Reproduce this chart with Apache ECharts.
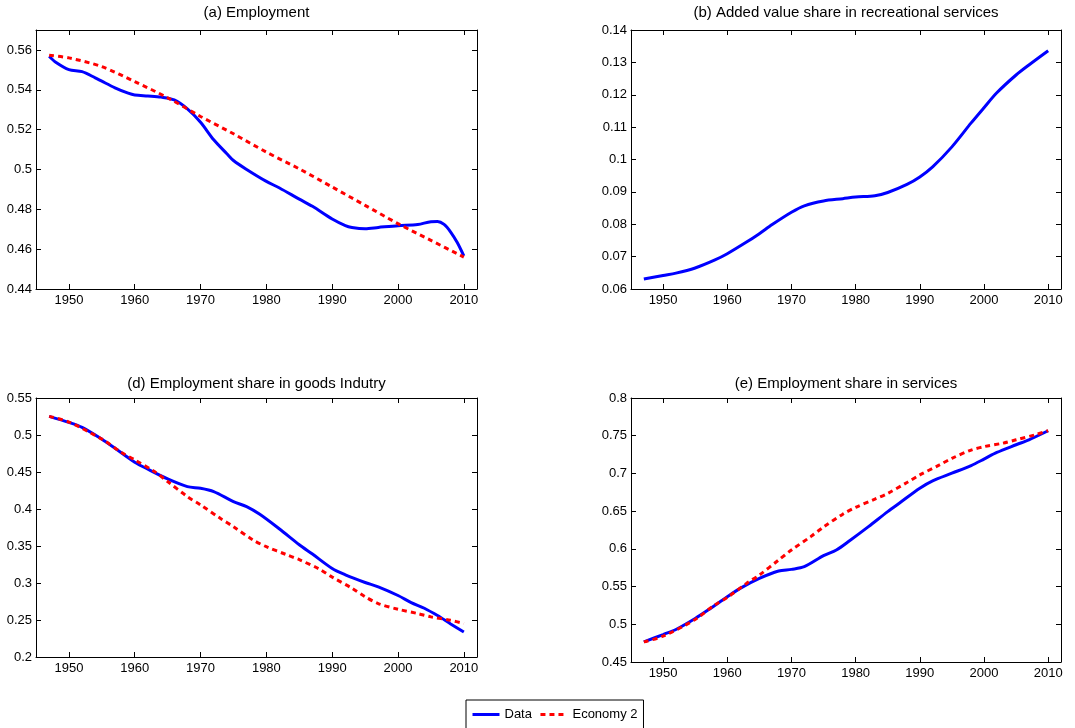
<!DOCTYPE html>
<html>
<head>
<meta charset="utf-8">
<title>Employment and sectoral shares</title>
<script src="https://cdn.jsdelivr.net/npm/echarts@6/dist/echarts.min.js"></script>
<style>
  html, body { margin: 0; padding: 0; background: #fff; }
  #chart { width: 1075px; height: 728px; }
</style>
</head>
<body>
<div id="chart"></div>
<script>
// ---- data -------------------------------------------------------------
const yearTicks = [1950, 1960, 1970, 1980, 1990, 2000, 2010];

// (a) Employment
const empDataYears = [1947, 1948, 1950, 1952, 1954, 1955, 1957, 1959, 1960, 1962, 1964, 1966, 1968, 1970, 1972, 1974, 1975, 1977, 1980, 1982, 1985, 1987, 1990, 1992, 1993, 1995, 1997, 2000, 2003, 2005, 2006, 2007, 2008, 2009, 2010];
const empData = [0.5568, 0.5538, 0.5501, 0.5491, 0.5460, 0.5443, 0.5410, 0.5383, 0.5374, 0.5369, 0.5363, 0.5349, 0.5304, 0.5237, 0.5149, 0.5079, 0.5045, 0.5000, 0.4940, 0.4907, 0.4851, 0.4815, 0.4751, 0.4718, 0.4709, 0.4703, 0.4709, 0.4718, 0.4724, 0.4738, 0.4739, 0.4724, 0.4686, 0.4633, 0.4566];
const empModelYears = [1947, 1950, 1955, 1960, 1965, 1970, 1975, 1980, 1985, 1990, 1995, 2000, 2005, 2010];
const empModel = [0.5573, 0.5560, 0.5516, 0.5441, 0.5360, 0.5266, 0.5179, 0.5087, 0.5003, 0.4912, 0.4820, 0.4728, 0.4644, 0.4560];
const empTicks = [0.44, 0.46, 0.48, 0.5, 0.52, 0.54, 0.56];

// (b) Added value share in recreational services
const recYears = [1947, 1950, 1952, 1955, 1958, 1960, 1963, 1965, 1967, 1970, 1972, 1975, 1978, 1980, 1983, 1985, 1988, 1990, 1992, 1995, 1998, 2000, 2002, 2005, 2007, 2010];
const recData = [0.0631, 0.0642, 0.0649, 0.0665, 0.0689, 0.0709, 0.0745, 0.0771, 0.0799, 0.0837, 0.0857, 0.0872, 0.0879, 0.0884, 0.0888, 0.0898, 0.0923, 0.0946, 0.0977, 0.1039, 0.1113, 0.1160, 0.1206, 0.1261, 0.1292, 0.1336];
const recTicks = [0.06, 0.07, 0.08, 0.09, 0.1, 0.11, 0.12, 0.13, 0.14];

// (d) Employment share in goods industry
const goodsDataYears = [1947, 1950, 1952, 1955, 1957, 1960, 1962, 1965, 1968, 1970, 1972, 1975, 1977, 1979, 1982, 1985, 1987, 1990, 1992, 1995, 1997, 2000, 2002, 2004, 2006, 2008, 2010];
const goodsData = [0.5252, 0.5170, 0.5103, 0.4944, 0.4822, 0.4633, 0.4538, 0.4407, 0.4303, 0.4280, 0.4235, 0.4100, 0.4032, 0.3928, 0.3729, 0.3517, 0.3391, 0.3196, 0.3111, 0.3007, 0.2948, 0.2831, 0.2736, 0.2659, 0.2560, 0.2447, 0.2338];
const goodsModelYears = [1947, 1950, 1955, 1958, 1960, 1963, 1965, 1968, 1970, 1973, 1975, 1978, 1980, 1983, 1985, 1988, 1990, 1993, 1995, 1997, 2000, 2003, 2005, 2008, 2010];
const goodsModel = [0.5252, 0.5175, 0.4944, 0.4764, 0.4664, 0.4506, 0.4371, 0.4167, 0.4055, 0.3874, 0.3761, 0.3580, 0.3490, 0.3385, 0.3315, 0.3190, 0.3080, 0.2930, 0.2815, 0.2722, 0.2645, 0.2587, 0.2542, 0.2496, 0.2451];
const goodsTicks = [0.2, 0.25, 0.3, 0.35, 0.4, 0.45, 0.5, 0.55];

// (e) Employment share in services
const servDataYears = [1947, 1950, 1952, 1955, 1957, 1960, 1962, 1965, 1968, 1970, 1972, 1975, 1977, 1979, 1982, 1985, 1987, 1990, 1992, 1995, 1998, 2000, 2002, 2005, 2007, 2010];
const servData = [0.4767, 0.4864, 0.4931, 0.5077, 0.5188, 0.5365, 0.5476, 0.5608, 0.5706, 0.5728, 0.5763, 0.5910, 0.5985, 0.6104, 0.6295, 0.6494, 0.6618, 0.6804, 0.6902, 0.7003, 0.7105, 0.7190, 0.7278, 0.7380, 0.7446, 0.7566];
const servModelYears = [1947, 1950, 1955, 1958, 1960, 1963, 1965, 1968, 1970, 1973, 1975, 1978, 1980, 1983, 1985, 1988, 1990, 1993, 1995, 1998, 2000, 2003, 2005, 2008, 2010];
const servModel = [0.4767, 0.4842, 0.5064, 0.5254, 0.5356, 0.5542, 0.5653, 0.5852, 0.5985, 0.6162, 0.6290, 0.6460, 0.6550, 0.6660, 0.6735, 0.6880, 0.6980, 0.7110, 0.7200, 0.7310, 0.7355, 0.7402, 0.7446, 0.7513, 0.7566];
const servTicks = [0.45, 0.5, 0.55, 0.6, 0.65, 0.7, 0.75, 0.8];

const panelTitles = [
  '(a) Employment',
  '(b) Added value share in recreational services',
  '(d) Employment share in goods Indutry',
  '(e) Employment share in services'
];
const seriesNames = ['Data', 'Economy 2'];

// ---- layout -----------------------------------------------------------
const FONT = '"Liberation Sans", Arial, Helvetica, sans-serif';
const panels = [
  { rect: { left: 36,  top: 30,  width: 441, height: 259 }, yMin: 0.44, yMax: 0.57, yTicks: empTicks, titleY: 12.5 },
  { rect: { left: 631, top: 30,  width: 430, height: 259 }, yMin: 0.06, yMax: 0.14, yTicks: recTicks, titleY: 12.5 },
  { rect: { left: 36,  top: 398, width: 441, height: 259 }, yMin: 0.2,  yMax: 0.55, yTicks: goodsTicks, titleY: 383.5 },
  { rect: { left: 631, top: 398, width: 430, height: 264 }, yMin: 0.45, yMax: 0.8,  yTicks: servTicks, titleY: 383.5 }
];

const zip = (xs, ys) => xs.map((x, i) => [x, ys[i]]);
const lines = [
  [zip(empDataYears, empData), zip(empModelYears, empModel)],
  [zip(recYears, recData), null],
  [zip(goodsDataYears, goodsData), zip(goodsModelYears, goodsModel)],
  [zip(servDataYears, servData), zip(servModelYears, servModel)]
];

const axisLine = { show: true, onZero: false, lineStyle: { color: '#000', width: 1 } };
const labelStyle = { color: '#000', fontSize: 13, fontFamily: FONT };

const dataLine = { color: '#0000ff', width: 3 };
const modelLine = { color: '#ff0000', width: 3, type: [5, 4], cap: 'butt' };

const grid = [], xAxis = [], yAxis = [], series = [], graphic = [];

panels.forEach((p, i) => {
  grid.push(Object.assign({ show: false, outerBoundsMode: 'none' }, p.rect));

  // bottom axis carries the labels, top axis repeats the ticks
  ['bottom', 'top'].forEach((pos) => {
    xAxis.push({
      type: 'value', gridIndex: i, position: pos, min: 1945, max: 2012,
      axisLine: axisLine,
      axisTick: { show: true, inside: true, length: 5, customValues: yearTicks, lineStyle: { color: '#000' } },
      axisLabel: pos === 'bottom'
        ? Object.assign({ show: true, margin: 5, customValues: yearTicks, formatter: (v) => String(v) }, labelStyle)
        : { show: false },
      splitLine: { show: false }
    });
  });
  ['left', 'right'].forEach((pos) => {
    yAxis.push({
      type: 'value', gridIndex: i, position: pos, min: p.yMin, max: p.yMax,
      axisLine: axisLine,
      axisTick: { show: true, inside: true, length: 5, customValues: p.yTicks, lineStyle: { color: '#000' } },
      axisLabel: pos === 'left'
        ? Object.assign({ show: true, margin: 4, customValues: p.yTicks, formatter: (v) => String(+v.toFixed(4)) }, labelStyle)
        : { show: false },
      splitLine: { show: false }
    });
  });

  const xi = i * 2, yi = i * 2;
  series.push({
    name: seriesNames[0], type: 'line', xAxisIndex: xi, yAxisIndex: yi,
    data: lines[i][0], symbol: 'none', smooth: 0.3, z: 2,
    lineStyle: dataLine, itemStyle: { color: '#0000ff', opacity: 0 }
  });
  if (lines[i][1]) {
    series.push({
      name: seriesNames[1], type: 'line', xAxisIndex: xi, yAxisIndex: yi,
      data: lines[i][1], symbol: 'none', smooth: 0.3, z: 3,
      lineStyle: modelLine, itemStyle: { color: '#ff0000', opacity: 0 }
    });
  }

  graphic.push({
    type: 'text', x: p.rect.left + p.rect.width / 2, y: p.titleY,
    style: { text: panelTitles[i], fill: '#000', font: '15px ' + FONT, align: 'center', verticalAlign: 'middle' }
  });
});

const chart = echarts.init(document.getElementById('chart'), null, { renderer: 'canvas' });
chart.setOption({
  animation: false,
  backgroundColor: '#fff',
  grid, xAxis, yAxis, series, graphic,
  legend: {
    data: seriesNames,
    left: 466, top: 700,
    orient: 'horizontal',
    padding: [8, 6, 8, 5],
    itemGap: 7,
    itemWidth: 27, itemHeight: 14,
    borderColor: '#000', borderWidth: 1,
    backgroundColor: '#fff',
    itemStyle: { opacity: 0 },
    lineStyle: { width: 3 },
    textStyle: { color: '#000', fontSize: 13, fontFamily: FONT }
  }
});
</script>
</body>
</html>
